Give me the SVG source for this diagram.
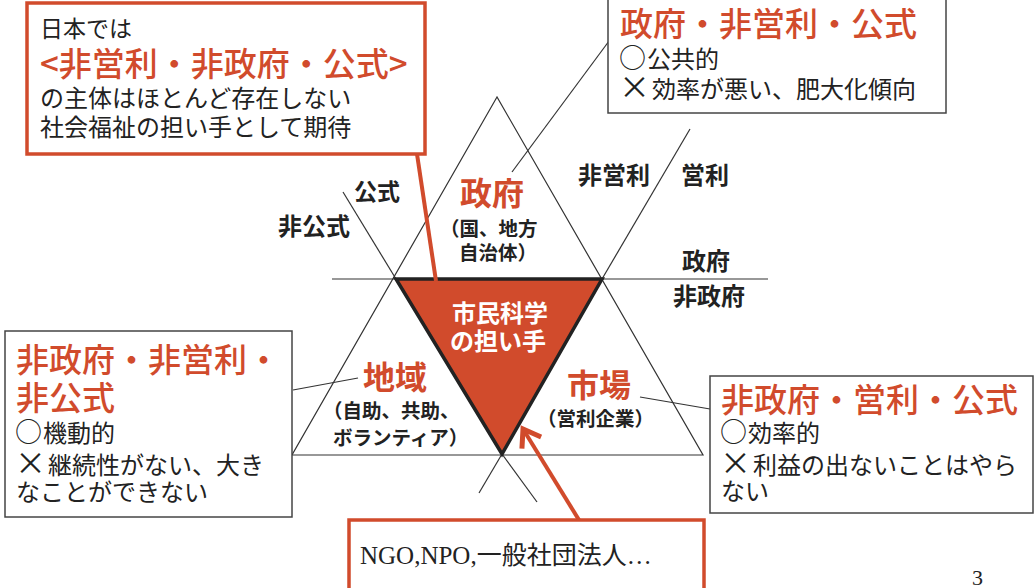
<svg xmlns="http://www.w3.org/2000/svg" width="1034" height="588" viewBox="0 0 1034 588">
<defs>
<style>
text{font-family:"Noto Sans CJK JP","Noto Sans CJK SC",sans-serif;fill:#222;}
.body{font-size:24px;font-weight:400;}
.sym{font-size:27px;}
.cross{font-size:31px;}
.head{font-size:33px;font-weight:500;fill:#D14B2C;}
.lbl{font-size:24px;font-weight:700;}
.sub{font-size:19.5px;font-weight:700;}
.big{font-size:32px;font-weight:700;fill:#D14B2C;}
.wht{font-size:24px;font-weight:700;fill:#fff;}
.grayBox{fill:#fff;stroke:#444;stroke-width:1.5;}
.redBox{fill:#fff;stroke:#D14B2C;stroke-width:3.5;}
.thin{stroke:#333;stroke-width:1.2;fill:none;}
.red{stroke:#D14B2C;stroke-width:4;fill:none;}
</style>
<marker id="chev" markerUnits="userSpaceOnUse" markerWidth="30" markerHeight="30" refX="0" refY="0" viewBox="-16 -12 20 24" orient="auto" overflow="visible">
<path d="M -13 -9 L 0 0 L -13 9" fill="none" stroke="#D14B2C" stroke-width="4"/>
</marker>
</defs>
<rect width="1034" height="588" fill="#fff"/>

<g id="connectors">
<polygon class="thin" points="497,97 292,455 703,455"/>
<line class="thin" x1="332" y1="279" x2="768" y2="279"/>
<line class="thin" x1="343" y1="192" x2="396" y2="279"/>
<line class="thin" x1="690" y1="129" x2="602" y2="279"/>
<line class="thin" x1="502" y1="454" x2="537" y2="502"/>
<line class="thin" x1="502" y1="454" x2="479" y2="493"/>
<line class="thin" x1="512" y1="172" x2="612" y2="37"/>
<line class="thin" x1="293" y1="390" x2="358" y2="378"/>
<line class="thin" x1="640" y1="397" x2="710" y2="409"/>
</g>

<g id="core">
<polygon points="396,279 602,279 502,454" fill="#D14B2C" stroke="#222" stroke-width="3.5" stroke-linejoin="miter"/>
<text class="wht" x="452" y="322">市民科学</text>
<text class="wht" x="450" y="350">の担い手</text>
</g>

<g id="red-links">
<line class="red" x1="417" y1="154" x2="436" y2="281"/>
<line class="red" x1="579" y1="520" x2="523" y2="429" marker-end="url(#chev)"/>
</g>

<g id="gov">
<text class="big" x="460" y="205">政府</text>
<text class="sub" x="440" y="236">（国、地方</text>
<text class="sub" x="459" y="260">自治体）</text>
</g>
<g id="community">
<text class="big" x="363" y="389">地域</text>
<text class="sub" x="323" y="418">（自助、共助、</text>
<text class="sub" x="333" y="445">ボランティア）</text>
</g>
<g id="market">
<text class="big" x="567" y="397">市場</text>
<text class="sub" x="537" y="426">（営利企業）</text>
</g>

<g id="axis-labels">
<text class="lbl" x="354" y="200" style="font-size:23px">公式</text>
<text class="lbl" x="278" y="235">非公式</text>
<text class="lbl" x="578" y="184">非営利</text>
<text class="lbl" x="681" y="184">営利</text>
<text class="lbl" x="682" y="270">政府</text>
<text class="lbl" x="673" y="305">非政府</text>
</g>

<g id="box-japan">
<rect class="redBox" x="27" y="3" width="398" height="151"/>
<text class="body" x="40" y="37" style="font-size:23px">日本では</text>
<text class="head" x="40" y="76">&lt;非営利・非政府・公式&gt;</text>
<text class="body" x="40" y="107">の主体はほとんど存在しない</text>
<text class="body" x="40" y="136">社会福祉の担い手として期待</text>
</g>

<g id="box-gov">
<rect class="grayBox" x="608" y="-2" width="338" height="115"/>
<text class="head" x="620" y="36">政府・非営利・公式</text>
<text class="body" x="619" y="68"><tspan class="sym">○</tspan><tspan dx="1">公共的</tspan></text>
<text class="body" x="619" y="98"><tspan class="cross">×</tspan><tspan dx="2">効率が悪い、肥大化傾向</tspan></text>
</g>

<g id="box-community">
<rect class="grayBox" x="5" y="331" width="287" height="186"/>
<text class="head" x="16" y="372">非政府・非営利・</text>
<text class="head" x="16" y="410">非公式</text>
<text class="body" x="15" y="442"><tspan class="sym">○</tspan><tspan dx="1">機動的</tspan></text>
<text class="body" x="15" y="474"><tspan class="cross">×</tspan><tspan dx="2">継続性がない、大き</tspan></text>
<text class="body" x="16" y="501">なことができない</text>
</g>

<g id="box-market">
<rect class="grayBox" x="710" y="376" width="323" height="137"/>
<text class="head" x="721" y="412">非政府・営利・公式</text>
<text class="body" x="720" y="442"><tspan class="sym">○</tspan><tspan dx="1">効率的</tspan></text>
<text class="body" x="720" y="474"><tspan class="cross">×</tspan><tspan dx="2">利益の出ないことはやら</tspan></text>
<text class="body" x="721" y="500">ない</text>
</g>

<g id="box-ngo">
<rect class="redBox" x="349" y="520" width="355" height="75"/>
<text x="360" y="564" style="font-family:'Liberation Serif','Noto Sans CJK JP',serif;font-size:25px">NGO,NPO,一般社団法人…</text>
</g>

<text x="972" y="585" style="font-family:'Liberation Serif',serif;font-size:22px">3</text>
</svg>
